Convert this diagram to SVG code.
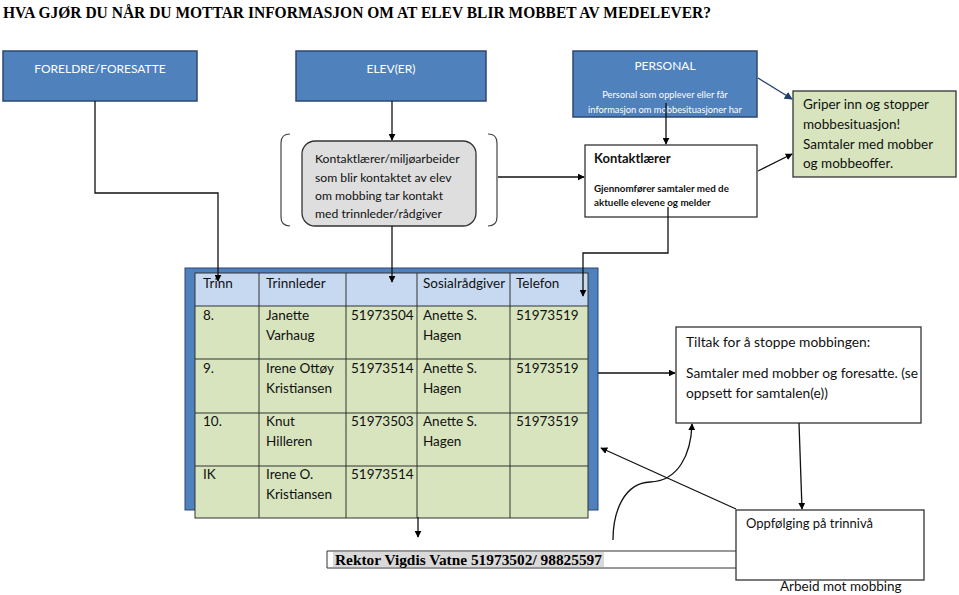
<svg xmlns="http://www.w3.org/2000/svg" width="959" height="595" viewBox="0 0 959 595">
<defs>
<marker id="ah" viewBox="0 0 10 10" refX="9" refY="5" markerWidth="7" markerHeight="7" markerUnits="userSpaceOnUse" orient="auto"><path d="M0,0 L10,5 L0,10 z" fill="#000"/></marker>
<marker id="ahb" viewBox="0 0 10 10" refX="9" refY="5" markerWidth="8" markerHeight="8" markerUnits="userSpaceOnUse" orient="auto"><path d="M0,0 L10,5 L0,10 z" fill="#1f3f6f"/></marker>
<style>
.blue{fill:#4f81bd;stroke:#2c4770;stroke-width:1.5}
.wt{fill:#fff;font-family:Lato,"Open Sans",sans-serif;font-size:12px;text-anchor:middle}
.ws{fill:#fff;font-family:Lato,"Open Sans",sans-serif;font-size:9.3px;text-anchor:middle}
.t{font-family:Lato,"Open Sans",sans-serif;font-size:13.5px;fill:#111}
.r{font-family:Lato,"Open Sans",sans-serif;font-size:12.2px;fill:#111}
.kb{font-family:Lato,"Open Sans",sans-serif;font-size:9.8px;font-weight:bold;fill:#111}
.box{fill:#fff;stroke:#333;stroke-width:1.3}
.green{fill:#d7e4bd;stroke:#333;stroke-width:1.3}
.hdr{fill:#c6d9f1}
.grid{stroke:#333;stroke-width:1;fill:none}
.c{fill:none;stroke:#111;stroke-width:1.3}
</style>
</defs>
<rect width="959" height="595" fill="#fff"/>
<text x="3" y="18" font-family="Liberation Serif,serif" font-weight="bold" font-size="16.5" textLength="708" lengthAdjust="spacingAndGlyphs">HVA GJØR DU NÅR DU MOTTAR INFORMASJON OM AT ELEV BLIR MOBBET AV MEDELEVER?</text>

<g id="foreldre"><rect class="blue" x="3" y="51" width="194" height="50"/><text class="wt" x="100" y="73">FORELDRE/FORESATTE</text></g>
<g id="elever"><rect class="blue" x="296" y="51" width="190" height="50"/><text class="wt" x="391" y="73">ELEV(ER)</text></g>
<g id="personal"><rect class="blue" x="573" y="51" width="184" height="66"/><text class="wt" x="665" y="70">PERSONAL</text>
<text class="ws" x="665" y="98">Personal som opplever eller får</text>
<text class="ws" x="665" y="113">informasjon om mobbesituasjoner har</text></g>

<g id="kontakt-miljo">
<path d="M290,134 Q281,134 281,143 L281,217 Q281,226 290,226" fill="none" stroke="#444" stroke-width="1.2"/>
<path d="M488,134 Q497,134 497,143 L497,217 Q497,226 488,226" fill="none" stroke="#444" stroke-width="1.2"/>
<rect x="302" y="141" width="174" height="85" rx="13" fill="#dedede" stroke="#333" stroke-width="1.3"/>
<text class="r" x="315" y="163">Kontaktlærer/miljøarbeider</text>
<text class="r" x="315" y="182">som blir kontaktet av elev</text>
<text class="r" x="315" y="200">om mobbing tar kontakt</text>
<text class="r" x="315" y="218">med trinnleder/rådgiver</text>
</g>

<g id="kontaktlaerer"><rect class="box" x="585" y="145" width="172" height="72"/>
<text class="t" x="594" y="163" style="font-weight:bold;font-size:13px">Kontaktlærer</text>
<text class="kb" x="594" y="192">Gjennomfører samtaler med de</text>
<text class="kb" x="594" y="206">aktuelle elevene og melder</text></g>

<g id="griper"><rect class="green" x="793" y="91" width="163" height="86"/>
<text class="t" x="803" y="109">Griper inn og stopper</text>
<text class="t" x="803" y="129">mobbesituasjon!</text>
<text class="t" x="803" y="149">Samtaler med mobber</text>
<text class="t" x="803" y="168">og mobbeoffer.</text></g>

<g id="tabell">
<rect x="185" y="268" width="413" height="242" fill="#4f81bd" stroke="#2c4770" stroke-width="1"/>
<rect class="hdr" x="195" y="273" width="393" height="33"/>
<rect fill="#d7e4bd" x="195" y="306" width="393" height="212"/>
<g class="grid">
<rect x="195" y="273" width="393" height="245"/>
<line x1="195" y1="306" x2="588" y2="306"/><line x1="195" y1="359" x2="588" y2="359"/><line x1="195" y1="413" x2="588" y2="413"/><line x1="195" y1="466" x2="588" y2="466"/>
<line x1="259" y1="273" x2="259" y2="518"/><line x1="346" y1="273" x2="346" y2="518"/><line x1="417" y1="273" x2="417" y2="518"/><line x1="510" y1="273" x2="510" y2="518"/>
</g>
<text class="t" x="203" y="288">Trinn</text><text class="t" x="266" y="288">Trinnleder</text><text class="t" x="423" y="288">Sosialrådgiver</text><text class="t" x="516" y="288">Telefon</text>
<text class="t" x="203" y="320">8.</text><text class="t" x="266" y="320">Janette</text><text class="t" x="266" y="340">Varhaug</text><text class="t" x="351" y="320">51973504</text><text class="t" x="423" y="320">Anette S.</text><text class="t" x="423" y="340">Hagen</text><text class="t" x="516" y="320">51973519</text>
<text class="t" x="203" y="373">9.</text><text class="t" x="266" y="373">Irene Ottøy</text><text class="t" x="266" y="393">Kristiansen</text><text class="t" x="351" y="373">51973514</text><text class="t" x="423" y="373">Anette S.</text><text class="t" x="423" y="393">Hagen</text><text class="t" x="516" y="373">51973519</text>
<text class="t" x="203" y="426">10.</text><text class="t" x="266" y="426">Knut</text><text class="t" x="266" y="446">Hilleren</text><text class="t" x="351" y="426">51973503</text><text class="t" x="423" y="426">Anette S.</text><text class="t" x="423" y="446">Hagen</text><text class="t" x="516" y="426">51973519</text>
<text class="t" x="203" y="479">IK</text><text class="t" x="266" y="479">Irene O.</text><text class="t" x="266" y="499">Kristiansen</text><text class="t" x="351" y="479">51973514</text>
</g>

<g id="tiltak"><rect class="box" x="676" y="327" width="245" height="96"/>
<text class="t" x="686" y="347" style="font-size:13.8px">Tiltak for å stoppe mobbingen:</text>
<text class="t" x="686" y="378" style="font-size:13.8px">Samtaler med mobber og foresatte. (se</text>
<text class="t" x="686" y="398" style="font-size:13.8px">oppsett for samtalen(e))</text></g>

<g id="rektor">
<path d="M736,551 L327,551 L327,568 L736,568" fill="#fff" stroke="#333" stroke-width="1"/>
<rect x="333" y="552" width="271" height="15" fill="#d9d9d9"/>
<text x="335" y="565" font-family="Liberation Serif,serif" font-weight="bold" font-size="15" textLength="267" lengthAdjust="spacingAndGlyphs">Rektor Vigdis Vatne 51973502/ 98825597</text>
</g>

<g id="oppfolging"><rect class="box" x="736" y="510" width="188" height="70"/>
<text class="t" x="746" y="528" style="font-size:13px">Oppfølging på trinnivå</text>
<text class="t" x="780" y="591">Arbeid mot mobbing</text></g>

<g id="connectors">
<path class="c" d="M95,101 L95,193 L218,193 L218,281" marker-end="url(#ah)"/>
<path class="c" d="M392,101 L392,140" marker-end="url(#ah)"/>
<path class="c" d="M666,103 L666,144" marker-end="url(#ah)"/>
<path class="c" d="M498,177 L584,177" marker-end="url(#ah)"/>
<path d="M758,78 L792,99" fill="none" stroke="#1f3f6f" stroke-width="1.3" marker-end="url(#ahb)"/>
<path class="c" d="M758,171 L792,154" marker-end="url(#ah)"/>
<path class="c" d="M392,226 L392,282" marker-end="url(#ah)"/>
<path class="c" d="M668,207 L668,253 L583,253 L583,296" marker-end="url(#ah)"/>
<path class="c" d="M418,517 L418,537" marker-end="url(#ah)"/>
<path class="c" d="M598,373 L675,373" marker-end="url(#ah)"/>
<path class="c" d="M799,423 L802,509" marker-end="url(#ah)"/>
<path class="c" d="M736,509 L601,448" marker-end="url(#ah)"/>
<path class="c" d="M613,540 C613,510 625,483 650,482 C678,481 691,455 692,424" marker-end="url(#ah)"/>
</g>
</svg>
